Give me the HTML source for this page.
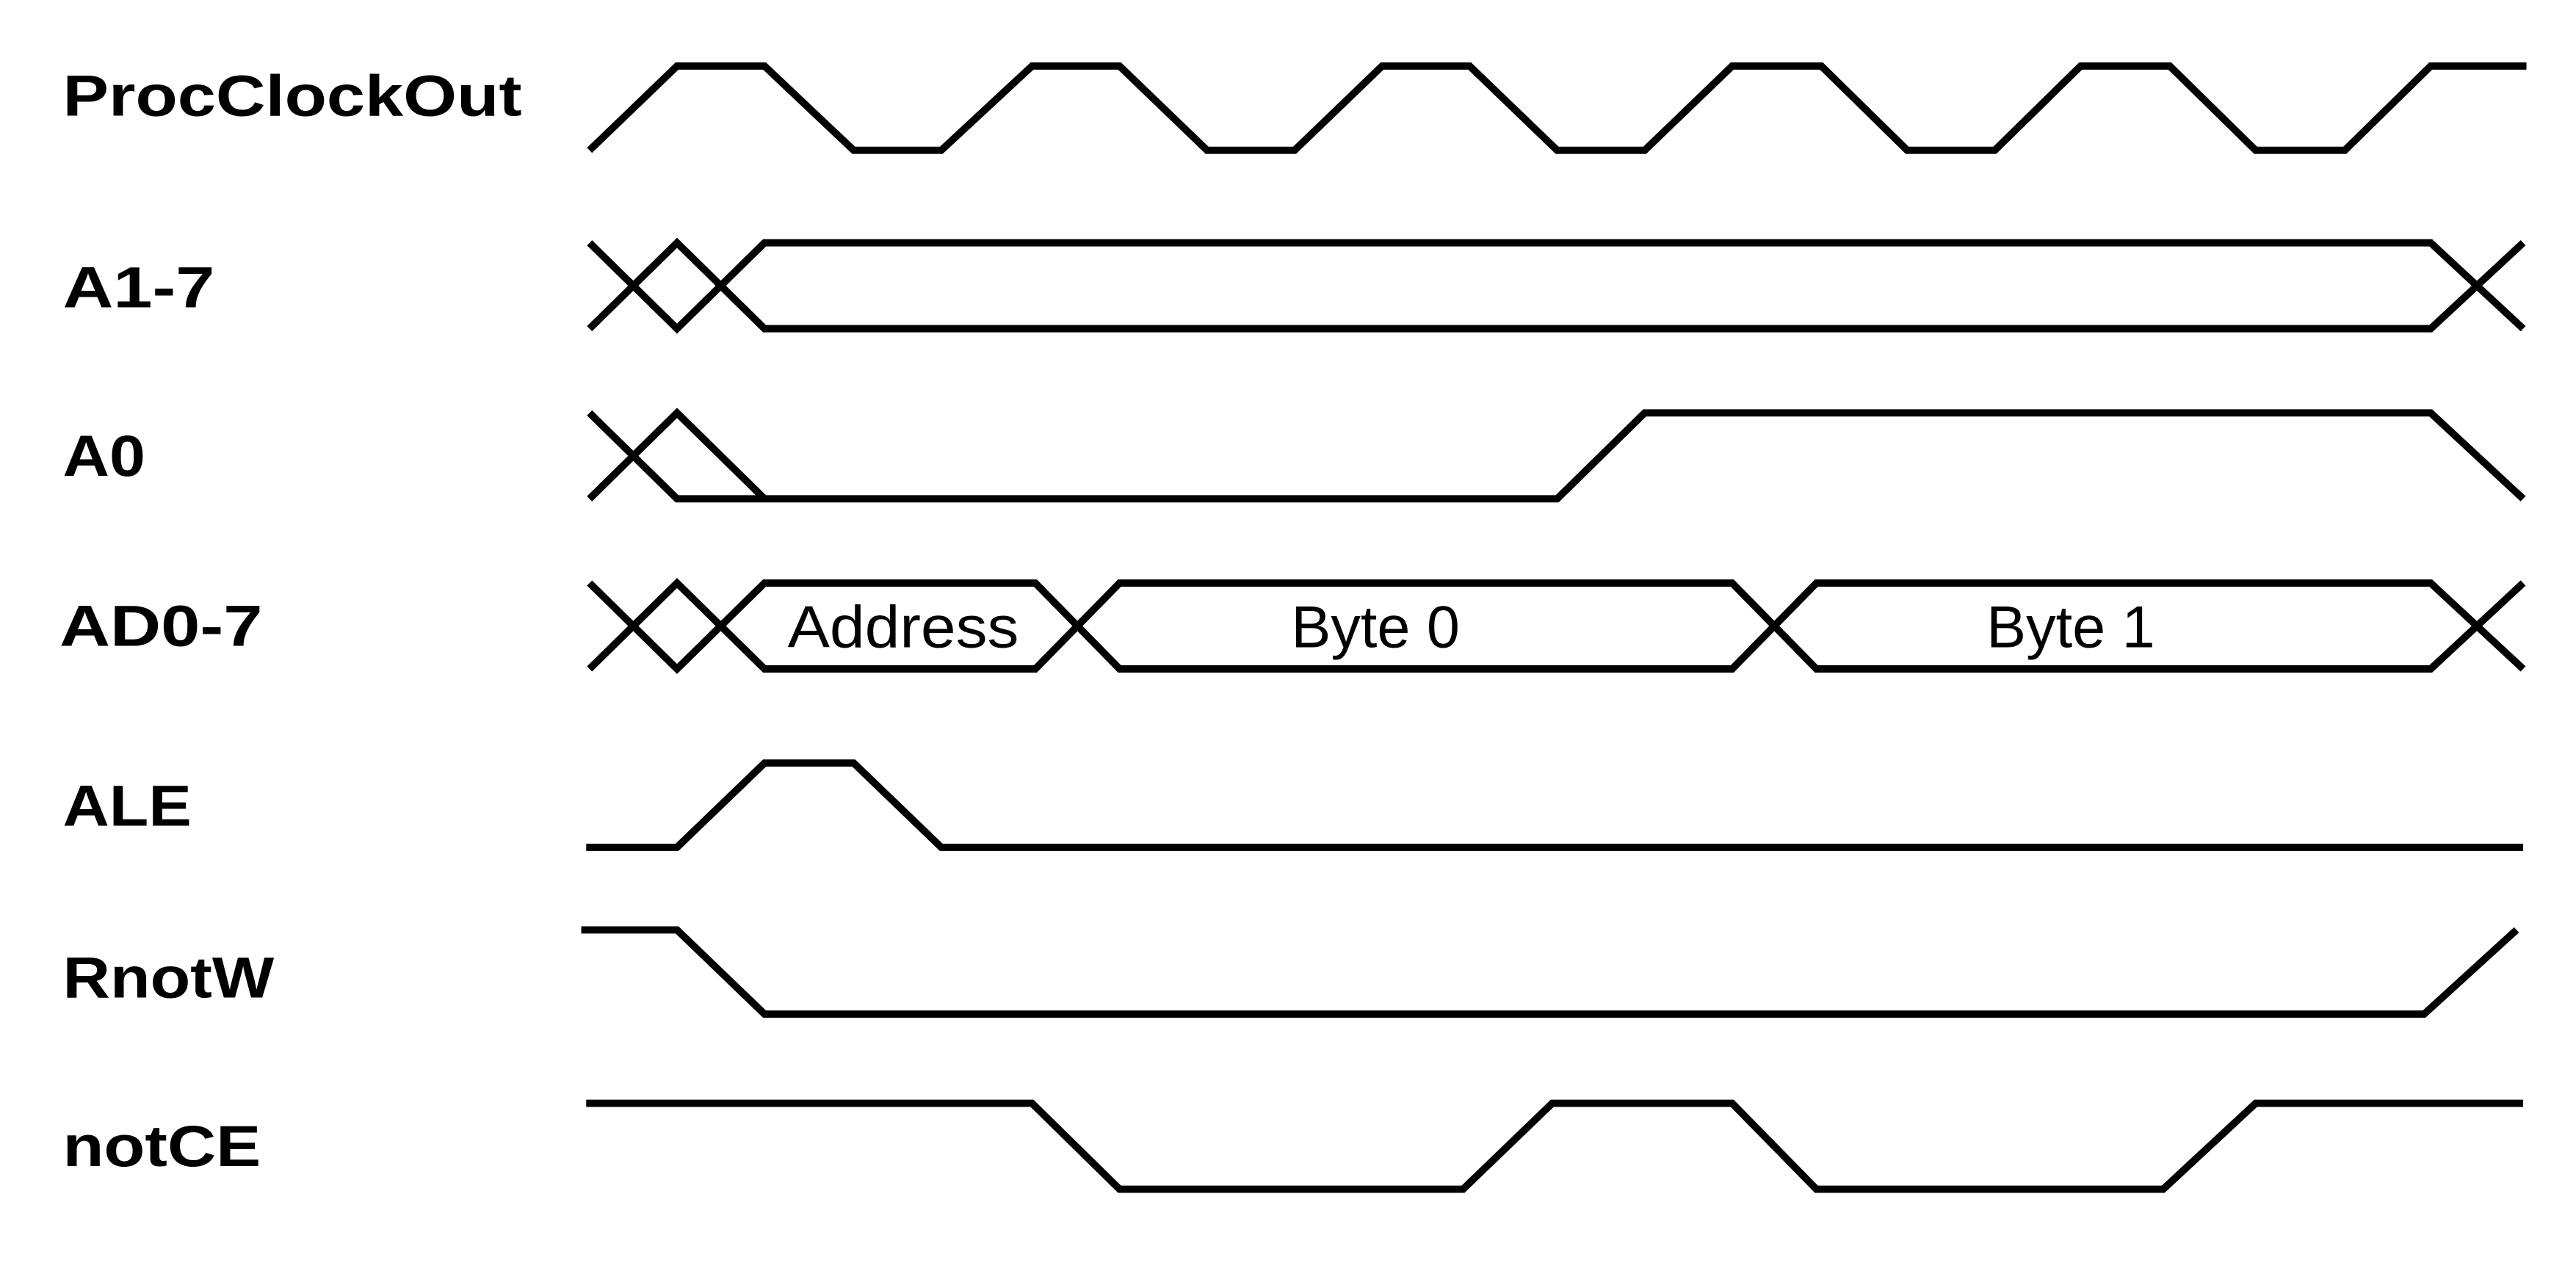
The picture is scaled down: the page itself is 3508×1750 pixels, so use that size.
<!DOCTYPE html>
<html><head><meta charset="utf-8"><style>
html,body{margin:0;padding:0;background:#fff;}
svg{display:block;}
.l{font-family:"Liberation Sans",Arial,sans-serif;font-weight:bold;font-size:35px;fill:#000;}
.b{font-family:"Liberation Sans",Arial,sans-serif;font-size:36px;fill:#000;}
path{fill:none;stroke:#000;stroke-width:4.4;stroke-linejoin:miter;stroke-linecap:butt;}
</style></head><body>
<svg width="3508" height="1750" viewBox="0 0 1560 778" preserveAspectRatio="none" xmlns="http://www.w3.org/2000/svg">
<text class="l" x="38" y="70" textLength="278" lengthAdjust="spacingAndGlyphs">ProcClockOut</text>
<text class="l" x="38" y="186" textLength="92" lengthAdjust="spacingAndGlyphs">A1-7</text>
<text class="l" x="38" y="288" textLength="50" lengthAdjust="spacingAndGlyphs">A0</text>
<text class="l" x="36" y="391" textLength="123" lengthAdjust="spacingAndGlyphs">AD0-7</text>
<text class="l" x="38" y="500" textLength="78" lengthAdjust="spacingAndGlyphs">ALE</text>
<text class="l" x="38" y="604" textLength="128" lengthAdjust="spacingAndGlyphs">RnotW</text>
<text class="l" x="38" y="706" textLength="120" lengthAdjust="spacingAndGlyphs">notCE</text>

<path d="M357,91 L410,40 L463,40 L517,91 L570,91 L625,40 L678,40 L731,91 L784,91 L837,40 L890,40 L943,91 L996,91 L1049,40 L1103,40 L1155,91 L1208,91 L1260,40 L1314,40 L1366,91 L1420,91 L1472,40 L1530,40"/>

<path d="M357,147 L410,199 L463,147 L1472,147 L1528,199"/>
<path d="M357,199 L410,147 L463,199 L1472,199 L1528,147"/>

<path d="M357,250 L410,302 L943,302 L996,250 L1472,250 L1528,302"/>
<path d="M357,302 L410,250 L463,302"/>

<path d="M357,353 L410,405 L463,353 L627,353 L678,405 L1049,405 L1100,353 L1472,353 L1528,405"/>
<path d="M357,405 L410,353 L463,405 L627,405 L678,353 L1049,353 L1100,405 L1472,405 L1528,353"/>
<text class="b" x="547" y="392" text-anchor="middle" textLength="140" lengthAdjust="spacingAndGlyphs">Address</text>
<text class="b" x="833" y="392" text-anchor="middle">Byte 0</text>
<text class="b" x="1254" y="392" text-anchor="middle">Byte 1</text>

<path d="M355,513 L410,513 L463,462 L517,462 L570,513 L1528,513"/>
<path d="M352,563 L410,563 L463,614 L1468,614 L1524,563"/>
<path d="M355,668 L625,668 L678,720 L886,720 L940,668 L1049,668 L1100,720 L1310,720 L1366,668 L1528,668"/>
</svg>
</body></html>
